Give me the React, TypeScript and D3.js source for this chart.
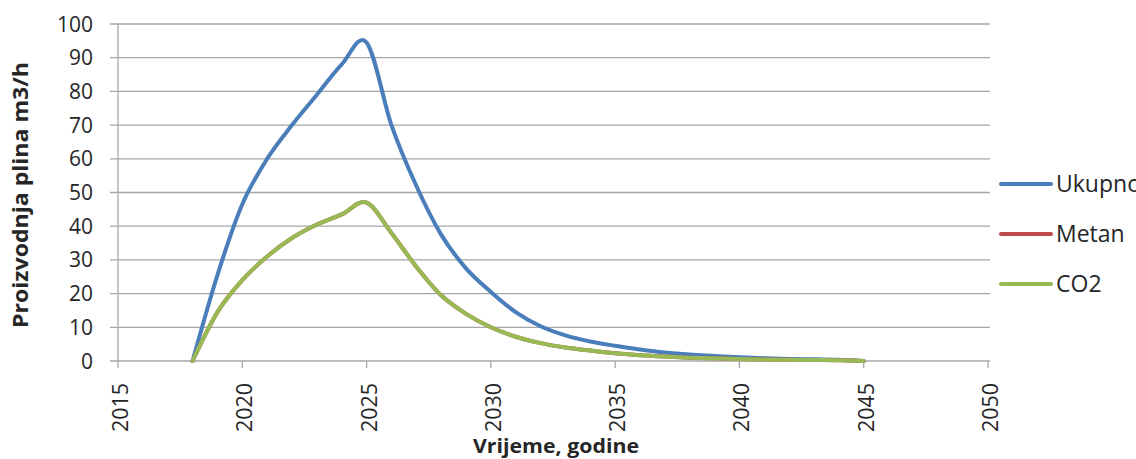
import React, { useEffect, useRef } from 'react'
import * as d3 from 'd3'

const years = [2018, 2019, 2020, 2021, 2022, 2023, 2024, 2025, 2026, 2027, 2028, 2029, 2030, 2031,
    2032, 2033, 2034, 2035, 2036, 2037, 2038, 2039, 2040, 2041, 2042, 2043, 2044, 2045]
const ukupno = [0, 25.5, 46.5, 60, 70, 79, 88, 94.5, 70, 52, 37.5, 27.5, 20.5, 14.5, 10.3, 7.6, 5.8, 4.5,
    3.4, 2.5, 1.9, 1.5, 1.1, 0.8, 0.6, 0.5, 0.4, 0]
const metan = [0, 14.5, 24, 31, 36.5, 40.5, 43.5, 47, 38, 28, 19.5, 14, 10, 7.2, 5.3, 4,
    3.1, 2.3, 1.7, 1.3, 1, 0.8, 0.6, 0.45, 0.35, 0.3, 0.2, 0]
const co2 = [0, 14.5, 24, 31, 36.5, 40.5, 43.5, 47, 38, 28, 19.5, 14, 10, 7.2, 5.3, 4,
    3.1, 2.3, 1.7, 1.3, 1, 0.8, 0.6, 0.45, 0.35, 0.3, 0.2, 0]

const xTicks = [2015, 2020, 2025, 2030, 2035, 2040, 2045, 2050]
const yTicks = [0, 10, 20, 30, 40, 50, 60, 70, 80, 90, 100]

const series = [
    { name: 'Ukupno', values: ukupno, color: '#4a7ebb' },
    { name: 'Metan', values: metan, color: '#be4b48' },
    { name: 'CO2', values: co2, color: '#98b954' },
]

const W = 1136, H = 459
const FONT = '"Open Sans", "DejaVu Sans", sans-serif'
const INK = '#262626'

export default function App() {
    const ref = useRef<SVGSVGElement>(null)

    useEffect(() => {
        const svg = d3.select(ref.current)
        svg.selectAll('*').remove()

        const x = d3.scaleLinear().domain([2015, 2050]).range([118, 988])
        const y = d3.scaleLinear().domain([0, 100]).range([361, 24])

        // gridlines (they also make the y tick marks)
        svg.append('g')
            .selectAll('line')
            .data(yTicks)
            .enter().append('line')
            .attr('x1', 110)
            .attr('x2', 990)
            .attr('y1', d => y(d))
            .attr('y2', d => y(d))
            .style('stroke', '#a6a6a6')
            .style('stroke-width', 1.3)

        // y axis line
        svg.append('line')
            .attr('x1', x(2015)).attr('x2', x(2015))
            .attr('y1', y(100)).attr('y2', y(0))
            .style('stroke', '#a6a6a6').style('stroke-width', 1.3)

        // x ticks
        svg.append('g')
            .selectAll('line')
            .data(xTicks)
            .enter().append('line')
            .attr('x1', d => x(d)).attr('x2', d => x(d))
            .attr('y1', y(0)).attr('y2', y(0) + 7)
            .style('stroke', '#a6a6a6').style('stroke-width', 1.3)

        // y tick labels
        svg.append('g')
            .selectAll('text')
            .data(yTicks)
            .enter().append('text')
            .attr('x', 93)
            .attr('y', d => y(d))
            .attr('dy', '0.36em')
            .attr('text-anchor', 'end')
            .style('font-family', FONT)
            .style('font-size', '21px')
            .style('fill', INK)
            .text(d => d)

        // x tick labels, rotated
        svg.append('g')
            .selectAll('text')
            .data(xTicks)
            .enter().append('text')
            .attr('transform', d => 'translate(' + (x(d) + 10) + ',' + 383 + ') rotate(-90)')
            .attr('text-anchor', 'end')
            .attr('textLength', 49)
            .attr('lengthAdjust', 'spacingAndGlyphs')
            .style('font-family', FONT)
            .style('font-size', '22px')
            .style('fill', INK)
            .text(d => d)

        // lines, Metan sits under CO2 like in the original
        const line = d3.line<number>()
            .curve(d3.curveCardinal.tension(0))
            .x((d, i) => x(years[i]))
            .y(d => y(d))

        series.forEach(s => {
            svg.append('path')
                .datum(s.values)
                .attr('d', line)
                .style('fill', 'none')
                .style('stroke', s.color)
                .style('stroke-width', 4)
                .style('stroke-linejoin', 'round')
                .style('stroke-linecap', 'round')
        })

        // legend (runs off the right edge, as in the source image)
        const lg = svg.append('g')
        series.forEach((s, i) => {
            const ly = 184 + i * 50
            lg.append('line')
                .attr('x1', 1001).attr('x2', 1051)
                .attr('y1', ly).attr('y2', ly)
                .style('stroke', s.color)
                .style('stroke-width', 4)
                .style('stroke-linecap', 'round')
            lg.append('text')
                .attr('x', 1056)
                .attr('y', ly)
                .attr('dy', '0.36em')
                .style('font-family', FONT)
                .style('font-size', '23px')
                .style('fill', INK)
                .text(s.name)
        })

        // axis titles
        svg.append('text')
            .attr('x', 556)
            .attr('y', 453)
            .attr('text-anchor', 'middle')
            .attr('textLength', 166)
            .attr('lengthAdjust', 'spacingAndGlyphs')
            .style('font-family', FONT)
            .style('font-size', '19px')
            .style('font-weight', 'bold')
            .style('fill', INK)
            .text('Vrijeme, godine')

        svg.append('text')
            .attr('transform', 'translate(28,195) rotate(-90)')
            .attr('text-anchor', 'middle')
            .attr('textLength', 266)
            .attr('lengthAdjust', 'spacingAndGlyphs')
            .style('font-family', FONT)
            .style('font-size', '22px')
            .style('font-weight', 'bold')
            .style('fill', INK)
            .text('Proizvodnja plina m3/h')
    }, [])

    return (
        <svg ref={ref} width={W} height={H}
            style={{ position: 'absolute', left: 0, top: 0, background: '#fff' }} />
    )
}
